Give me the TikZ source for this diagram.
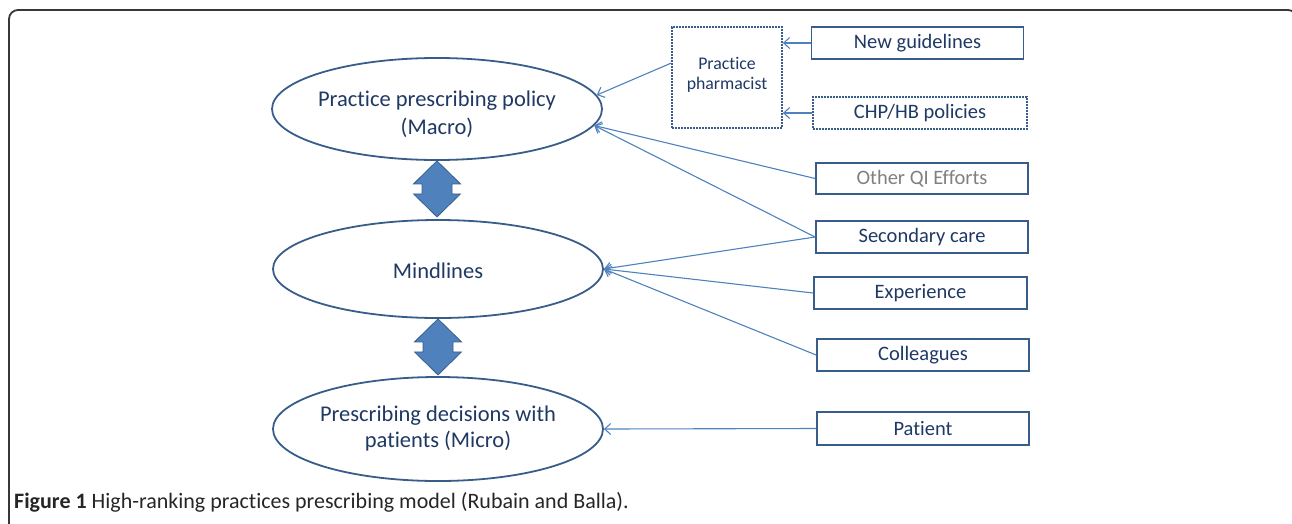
\documentclass[tikz,border=0pt]{standalone}
\usepackage{fontspec}
\setmainfont[Ligatures=NoCommon]{Carlito}
\usetikzlibrary{shapes.geometric,arrows.meta,calc}
\definecolor{txtblue}{RGB}{31,56,100}
\definecolor{edgeblue}{RGB}{56,93,138}
\definecolor{arrblue}{RGB}{79,129,189}
\definecolor{framegray}{RGB}{55,55,55}
\definecolor{qigray}{RGB}{128,128,128}
\begin{document}
\begin{tikzpicture}[x=1pt,y=-1pt,
  oval/.style={ellipse,draw=edgeblue,line width=1.8pt,inner sep=0pt},
  ovaltext/.style={text=txtblue,align=center,font=\fontsize{22.5}{28}\selectfont},
  srcbox/.style={rectangle,draw=edgeblue,line width=1.8pt,inner sep=0pt,text=txtblue,font=\fontsize{20.5}{24}\selectfont},
  dotbox/.style={srcbox,dash pattern=on 1.6pt off 1.4pt},
  conn/.style={draw=arrblue,line width=1.1pt,-{Straight Barb[length=6pt,width=11pt,line width=1.1pt]}},
  dblarrow/.style={fill=arrblue,draw=edgeblue,line width=0.8pt,line join=miter}
]
\clip (0,0) rectangle (1292,523);
\useasboundingbox (0,0) rectangle (1292,523);
% frame
\draw[framegray,line width=1.8pt,rounded corners=9pt] (9,540) -- (9,10) -- (1297,10) -- (1297,540);

% ellipses
\node[oval,minimum width=330,minimum height=102] (e1) at (437,109) {};
\node[ovaltext] (e1t) at (437,114) {Practice prescribing policy\\(Macro)};
\node[oval,minimum width=330,minimum height=98] (e2) at (438,269) {};
\node[ovaltext] (e2t) at (438,271) {Mindlines};
\node[oval,minimum width=330,minimum height=104] (e3) at (438,429) {};
\node[ovaltext,font=\fontsize{22.5}{26}\selectfont] (e3t) at (438,428) {Prescribing decisions with\\patients (Micro)};

% double arrows
\foreach \a/\b in {e1/e2,e2/e3}{
  \begin{scope}[shift={(\a.south)}]
    \draw[dblarrow] (0,0) -- (23.5,23) -- (15,23) -- (15,33) -- (23.5,33) -- (0,56)
      -- (-23.5,33) -- (-15,33) -- (-15,23) -- (-23.5,23) -- cycle;
  \end{scope}
}

% boxes
\node[dotbox,minimum width=110,minimum height=101] (ph) at (727,77.5) {};
\node[text=txtblue,align=center,font=\fontsize{17.8}{20}\selectfont] (pht) at (727,75) {Practice\\pharmacist};
\node[srcbox,minimum width=212,minimum height=32] (ng) at (917.5,43) {New guidelines};
\node[dotbox,minimum width=214,minimum height=32] (chp) at (920,113) {CHP/HB policies};
\node[srcbox,minimum width=212,minimum height=31,text=qigray] (oq) at (922,178.5) {Other QI Efforts};
\node[srcbox,minimum width=212,minimum height=32] (sc) at (922,237) {Secondary care};
\node[srcbox,minimum width=213,minimum height=32] (ex) at (920.5,293) {Experience};
\node[srcbox,minimum width=212,minimum height=32] (co) at (923,355) {Colleagues};
\node[srcbox,minimum width=212,minimum height=33] (pa) at (923,428.5) {Patient};

% connectors
\draw[conn] (ng.west) -- (ng.west -| ph.east);
\draw[conn] (chp.west) -- (chp.west -| ph.east);
\draw[conn] ($(ph.north west)!0.36!(ph.south west)$) -- (e1.5);
\draw[conn] (oq.west) -- (e1.-6);
\draw[conn] (sc.west) -- (e1.-6);
\draw[conn] (sc.west) -- (e2.east);
\draw[conn] (ex.west) -- (e2.east);
\draw[conn] (co.west) -- (e2.east);
\draw[conn] (pa.west) -- (e3.east);

% caption
\node[anchor=base west,inner sep=0pt,text=black!85,font=\fontsize{22}{26}\selectfont] (cap) at (14,508) {\textbf{Figure 1} High-ranking practices prescribing model (Rubain and Balla).};
\end{tikzpicture}
\end{document}
